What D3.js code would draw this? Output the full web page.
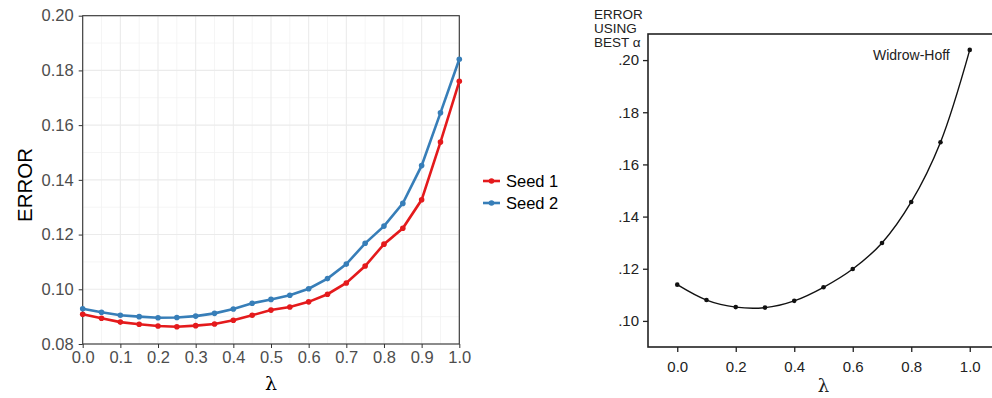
<!DOCTYPE html>
<html>
<head>
<meta charset="utf-8">
<script src="https://cdn.jsdelivr.net/npm/d3@7"></script>
<style>
  body { margin: 0; background: #fff; }
  svg { display: block; }
</style>
</head>
<body>
<div id="chart"></div>
<script>
// Données : graphe de gauche (ggplot), deux graines
var lambdas = [0, 0.05, 0.1, 0.15, 0.2, 0.25, 0.3, 0.35, 0.4, 0.45, 0.5,
               0.55, 0.6, 0.65, 0.7, 0.75, 0.8, 0.85, 0.9, 0.95, 1.0];
var seed1 = [0.0909, 0.0894, 0.0880, 0.0872, 0.0866, 0.0863, 0.0867, 0.0873, 0.0887, 0.0905, 0.0924,
             0.0935, 0.0954, 0.0982, 0.1023, 0.1085, 0.1165, 0.1223, 0.1327, 0.1538, 0.1760];
var seed2 = [0.0929, 0.0916, 0.0905, 0.0900, 0.0896, 0.0897, 0.0902, 0.0912, 0.0928, 0.0949, 0.0963,
             0.0978, 0.1002, 0.1039, 0.1092, 0.1168, 0.1231, 0.1314, 0.1452, 0.1645, 0.1841];
var seriesNames = ["Seed 1", "Seed 2"];
var leftYTicks = [0.08, 0.10, 0.12, 0.14, 0.16, 0.18, 0.20];
var leftXTicks = [0, 0.1, 0.2, 0.3, 0.4, 0.5, 0.6, 0.7, 0.8, 0.9, 1.0];

// Données : graphe de droite (figure scannée, Widrow-Hoff)
var lambdasOrig = [0, 0.1, 0.2, 0.3, 0.4, 0.5, 0.6, 0.7, 0.8, 0.9, 1.0];
var errorOrig = [0.1139, 0.1080, 0.1053, 0.1051, 0.1077, 0.1129, 0.1199, 0.1299, 0.1456, 0.1685, 0.2039];
var rightYTicks = [0.10, 0.12, 0.14, 0.16, 0.18, 0.20];
var rightXTicks = [0, 0.2, 0.4, 0.6, 0.8, 1.0];
var yTitleLines = ["ERROR", "USING", "BEST α"];

var svg = d3.select("#chart")
            .append("svg")
            .attr("width", 992)
            .attr("height", 398);

/** Graphe de gauche **/

var left = svg.append("g").attr("id", "left");
var x1 = d3.scaleLinear().domain([0, 1]).range([82.7, 459.3]);
var y1 = d3.scaleLinear().domain([0.08, 0.20]).range([344, 15.7]);
var font1 = "Liberation Sans, Arial, sans-serif";

//grille mineure puis majeure
var minorX = d3.range(0.05, 1, 0.1);
var minorY = d3.range(0.09, 0.20, 0.02);
left.selectAll(".minx").data(minorX).enter().append("line")
    .attr("x1", function(d){return x1(d);}).attr("x2", function(d){return x1(d);})
    .attr("y1", y1.range()[0]).attr("y2", y1.range()[1])
    .attr("stroke", "#f3f3f3").attr("stroke-width", 0.8);
left.selectAll(".miny").data(minorY).enter().append("line")
    .attr("y1", function(d){return y1(d);}).attr("y2", function(d){return y1(d);})
    .attr("x1", x1.range()[0]).attr("x2", x1.range()[1])
    .attr("stroke", "#f3f3f3").attr("stroke-width", 0.8);
left.selectAll(".majx").data(leftXTicks).enter().append("line")
    .attr("x1", function(d){return x1(d);}).attr("x2", function(d){return x1(d);})
    .attr("y1", y1.range()[0]).attr("y2", y1.range()[1])
    .attr("stroke", "#ebebeb").attr("stroke-width", 1.1);
left.selectAll(".majy").data(leftYTicks).enter().append("line")
    .attr("y1", function(d){return y1(d);}).attr("y2", function(d){return y1(d);})
    .attr("x1", x1.range()[0]).attr("x2", x1.range()[1])
    .attr("stroke", "#ebebeb").attr("stroke-width", 1.1);

//axes
var xAxis1 = left.append("g")
    .attr("transform", "translate(0," + y1.range()[0] + ")")
    .call(d3.axisBottom(x1).tickValues(leftXTicks).tickFormat(d3.format(".1f")).tickSize(4).tickPadding(3));
var yAxis1 = left.append("g")
    .attr("transform", "translate(" + x1.range()[0] + ",0)")
    .call(d3.axisLeft(y1).tickValues(leftYTicks).tickFormat(d3.format(".2f")).tickSize(4).tickPadding(5));
[xAxis1, yAxis1].forEach(function(a)
{
    a.select(".domain").remove();
    a.selectAll(".tick line").attr("stroke", "#333");
    a.selectAll(".tick text").attr("fill", "#4d4d4d")
        .style("font-family", font1).style("font-size", "16.5px");
});

//cadre du panneau
left.append("rect")
    .attr("x", x1.range()[0]).attr("y", y1.range()[1])
    .attr("width", x1.range()[1] - x1.range()[0])
    .attr("height", y1.range()[0] - y1.range()[1])
    .attr("fill", "none").attr("stroke", "#333").attr("stroke-width", 1.1);

//courbes
var colors = ["#E41A1C", "#377EB8"];
var series = [seed1, seed2];
var line1 = d3.line()
    .x(function(d, i){return x1(lambdas[i]);})
    .y(function(d){return y1(d);});

series.forEach(function(s, k)
{
    left.append("path")
        .datum(s)
        .attr("d", line1)
        .attr("fill", "none")
        .attr("stroke", colors[k])
        .attr("stroke-width", 2.6);
    left.selectAll(".pt" + k).data(s).enter().append("circle")
        .attr("cx", function(d, i){return x1(lambdas[i]);})
        .attr("cy", function(d){return y1(d);})
        .attr("r", 2.8)
        .attr("fill", colors[k]);
});

//titres des axes
left.append("text")
    .attr("transform", "translate(32,185) rotate(-90)")
    .attr("text-anchor", "middle")
    .style("font-family", font1).style("font-size", "20.5px")
    .text("ERROR");
left.append("text")
    .attr("x", (x1.range()[0] + x1.range()[1]) / 2).attr("y", 390)
    .attr("text-anchor", "middle")
    .style("font-family", "DejaVu Serif, serif").style("font-size", "19px")
    .text("λ");

//légende
var legend = left.selectAll(".legend").data(seriesNames).enter().append("g")
    .attr("transform", function(d, i){return "translate(483," + (181 + i * 22) + ")";});
legend.append("line").attr("x1", 0).attr("x2", 17).attr("y1", 0).attr("y2", 0)
    .attr("stroke", function(d, i){return colors[i];}).attr("stroke-width", 2.6);
legend.append("circle").attr("cx", 8.5).attr("cy", 0).attr("r", 2.8)
    .attr("fill", function(d, i){return colors[i];});
legend.append("text").attr("x", 23).attr("y", 0).attr("dy", "0.35em")
    .style("font-family", font1).style("font-size", "16.5px")
    .text(function(d){return d;});

/** Graphe de droite (reproduction de la figure originale) **/

var right = svg.append("g").attr("id", "right");
var x2 = d3.scaleLinear().domain([-0.1, 1.1]).range([648, 999]);
var y2 = d3.scaleLinear().domain([0.09, 0.21]).range([347, 34]);
var scanFont = "Liberation Sans, Arial, sans-serif";

//cadre
right.append("rect")
    .attr("x", x2.range()[0]).attr("y", y2.range()[1])
    .attr("width", x2.range()[1] - x2.range()[0])
    .attr("height", y2.range()[0] - y2.range()[1])
    .attr("fill", "none").attr("stroke", "#222").attr("stroke-width", 1.6);

var xAxis2 = right.append("g")
    .attr("transform", "translate(0," + y2.range()[0] + ")")
    .call(d3.axisBottom(x2).tickValues(rightXTicks).tickFormat(d3.format(".1f")).tickSize(5).tickPadding(9));
var yAxis2 = right.append("g")
    .attr("transform", "translate(" + x2.range()[0] + ",0)")
    .call(d3.axisLeft(y2).tickValues(rightYTicks)
        .tickFormat(function(d){return d3.format(".2f")(d).replace("0.", ".");})
        .tickSize(5).tickPadding(4));
[xAxis2, yAxis2].forEach(function(a)
{
    a.select(".domain").remove();
    a.selectAll(".tick line").attr("stroke", "#222").attr("stroke-width", 1.3);
    a.selectAll(".tick text").attr("fill", "#222")
        .style("font-family", scanFont).style("font-size", "15px");
});

var line2 = d3.line()
    .curve(d3.curveCatmullRom)
    .x(function(d, i){return x2(lambdasOrig[i]);})
    .y(function(d){return y2(d);});

right.append("path")
    .datum(errorOrig)
    .attr("d", line2)
    .attr("fill", "none")
    .attr("stroke", "#111")
    .attr("stroke-width", 1.4);
right.selectAll(".pt").data(errorOrig).enter().append("circle")
    .attr("cx", function(d, i){return x2(lambdasOrig[i]);})
    .attr("cy", function(d){return y2(d);})
    .attr("r", 2.3)
    .attr("fill", "#111");

right.append("text")
    .attr("x", 873).attr("y", 60)
    .style("font-family", scanFont).style("font-size", "14px").attr("fill", "#222")
    .text("Widrow-Hoff");

//titre de l'axe vertical sur trois lignes
right.selectAll(".ytitle").data(yTitleLines).enter().append("text")
    .attr("x", 594)
    .attr("y", function(d, i){return 19 + i * 14;})
    .style("font-family", scanFont).style("font-size", "13.5px").attr("fill", "#222")
    .text(function(d){return d;});

right.append("text")
    .attr("x", x2(0.5)).attr("y", 392)
    .attr("text-anchor", "middle")
    .style("font-family", "DejaVu Serif, serif").style("font-size", "18px").attr("fill", "#222")
    .text("λ");
</script>
</body>
</html>
